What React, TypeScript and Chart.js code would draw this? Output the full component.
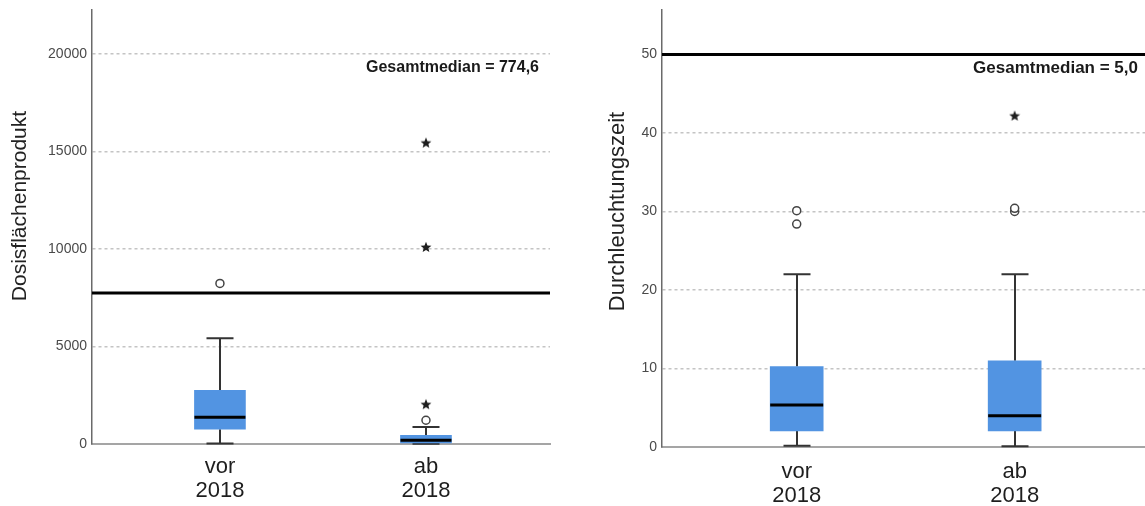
import React, { useEffect, useRef } from 'react';
import { Chart, registerables } from 'chart.js';

Chart.register(...registerables);

// ---------- shared ----------
const groupPositions = [1, 2];
const xTickLabels = [['vor', '2018'], ['ab', '2018']];

// ---------- left panel: Dosisflächenprodukt ----------
const dfpMin = [30, 10];
const dfpQ1 = [755, 50];
const dfpMedian = [1370, 190];
const dfpQ3 = [2757, 447];
const dfpMax = [5426, 873];
const dfpOutliers = [[8234], [1217]];
const dfpExtremes = [[], [2038, 10100, 15450]];
const dfpRefValue = 7746;
const dfpRefLabel = 'Gesamtmedian = 774,6';
const dfpTicks = [0, 5000, 10000, 15000, 20000];
const dfpTitle = 'Dosisflächenprodukt';

// ---------- right panel: Durchleuchtungszeit ----------
const dlzMin = [0.15, 0.1];
const dlzQ1 = [2.06, 2.06];
const dlzMedian = [5.34, 3.97];
const dlzQ3 = [10.25, 10.98];
const dlzMax = [22.0, 22.0];
const dlzOutliers = [[28.4, 30.1], [30.0, 30.4]];
const dlzExtremes = [[], [42.2]];
const dlzRefValue = 50;
const dlzRefLabel = 'Gesamtmedian = 5,0';
const dlzTicks = [0, 10, 20, 30, 40, 50];
const dlzTitle = 'Durchleuchtungszeit';

const FONT = '"Liberation Sans", Arial, Helvetica, sans-serif';
Chart.defaults.font.family = FONT;

type PanelCfg = {
  width: number;
  yAxisWidth: number;
  xAxisHeight: number;
  padTop: number;
  padRight: number;
  xMin: number;
  xMax: number;
  yMax: number;
  yTicks: number[];
  min: number[];
  q1: number[];
  median: number[];
  q3: number[];
  max: number[];
  outliers: number[][];
  extremes: number[][];
  refValue: number;
  refLabel: string;
  refLabelSize: number;
  refLabelInset: number;
  refLabelOffset: number;
  title: string;
  titleX: number;
  titleY: number;
  titleSize: number;
  boxWidth: number;
  capWidth: number;
  xTickPadding: number;
};

const leftCfg: PanelCfg = {
  width: 572,
  yAxisWidth: 92,
  xAxisHeight: 62,
  padTop: 10,
  padRight: 22,
  xMin: 0.379,
  xMax: 2.602,
  yMax: 22250,
  yTicks: dfpTicks,
  min: dfpMin,
  q1: dfpQ1,
  median: dfpMedian,
  q3: dfpQ3,
  max: dfpMax,
  outliers: dfpOutliers,
  extremes: dfpExtremes,
  refValue: dfpRefValue,
  refLabel: dfpRefLabel,
  refLabelSize: 16,
  refLabelInset: 11,
  refLabelOffset: 62,
  title: dfpTitle,
  titleX: 20.5,
  titleY: 206,
  titleSize: 21,
  boxWidth: 51,
  capWidth: 27,
  xTickPadding: 11,
};

const rightCfg: PanelCfg = {
  width: 573,
  yAxisWidth: 90,
  xAxisHeight: 59,
  padTop: 10,
  padRight: 0,
  xMin: 0.382,
  xMax: 2.598,
  yMax: 55.66,
  yTicks: dlzTicks,
  min: dlzMin,
  q1: dlzQ1,
  median: dlzMedian,
  q3: dlzQ3,
  max: dlzMax,
  outliers: dlzOutliers,
  extremes: dlzExtremes,
  refValue: dlzRefValue,
  refLabel: dlzRefLabel,
  refLabelSize: 17,
  refLabelInset: 7,
  refLabelOffset: 63,
  title: dlzTitle,
  titleX: 46,
  titleY: 211.5,
  titleSize: 22,
  boxWidth: 53,
  capWidth: 27,
  xTickPadding: 13,
};

function makeStar(size: number): HTMLCanvasElement {
  const c = document.createElement('canvas');
  c.width = size;
  c.height = size;
  const g = c.getContext('2d')!;
  const cx = size / 2;
  const cy = size / 2 + 0.5;
  const outer = size / 2 - 0.3;
  const inner = outer * 0.44;
  g.beginPath();
  for (let i = 0; i < 10; i++) {
    const r = i % 2 === 0 ? outer : inner;
    const a = -Math.PI / 2 + (i * Math.PI) / 5;
    const px = cx + r * Math.cos(a);
    const py = cy + r * Math.sin(a);
    if (i === 0) g.moveTo(px, py);
    else g.lineTo(px, py);
  }
  g.closePath();
  g.fillStyle = '#1e1e1e';
  g.fill();
  return c;
}

function makePlugin(p: PanelCfg) {
  return {
    id: 'boxExtras',
    beforeDatasetsDraw(chart: any) {
      const { ctx, chartArea: a, scales } = chart;
      const x = scales.x;
      const y = scales.y;
      ctx.save();
      // whiskers
      ctx.strokeStyle = '#333333';
      ctx.lineWidth = 2;
      p.min.forEach((mn, i) => {
        const cx = Math.round(x.getPixelForValue(groupPositions[i]));
        const yMin = y.getPixelForValue(mn);
        const yMax = y.getPixelForValue(p.max[i]);
        const yq1 = y.getPixelForValue(p.q1[i]);
        const yq3 = y.getPixelForValue(p.q3[i]);
        ctx.beginPath();
        ctx.moveTo(cx, yq3);
        ctx.lineTo(cx, yMax);
        ctx.moveTo(cx, yq1);
        ctx.lineTo(cx, yMin);
        ctx.moveTo(cx - p.capWidth / 2, yMax);
        ctx.lineTo(cx + p.capWidth / 2, yMax);
        ctx.moveTo(cx - p.capWidth / 2, yMin);
        ctx.lineTo(cx + p.capWidth / 2, yMin);
        ctx.stroke();
      });
      // reference line
      const ry = y.getPixelForValue(p.refValue);
      ctx.strokeStyle = '#000000';
      ctx.lineWidth = 3;
      ctx.beginPath();
      ctx.moveTo(a.left, ry);
      ctx.lineTo(a.right, ry);
      ctx.stroke();
      // reference label
      ctx.fillStyle = '#1a1a1a';
      ctx.font = `bold ${p.refLabelSize}px ${FONT}`;
      ctx.textAlign = 'right';
      ctx.textBaseline = 'alphabetic';
      ctx.fillText(p.refLabel, a.right - p.refLabelInset, a.top + p.refLabelOffset);
      ctx.restore();
    },
    afterDatasetsDraw(chart: any) {
      const { ctx, scales } = chart;
      const x = scales.x;
      const y = scales.y;
      ctx.save();
      ctx.strokeStyle = '#000000';
      ctx.lineWidth = 3;
      p.median.forEach((md, i) => {
        const cx = x.getPixelForValue(groupPositions[i]);
        const my = y.getPixelForValue(md);
        ctx.beginPath();
        ctx.moveTo(cx - p.boxWidth / 2, my);
        ctx.lineTo(cx + p.boxWidth / 2, my);
        ctx.stroke();
      });
      ctx.restore();
    },
    afterDraw(chart: any) {
      const { ctx } = chart;
      ctx.save();
      ctx.translate(p.titleX, p.titleY);
      ctx.rotate(-Math.PI / 2);
      ctx.font = `${p.titleSize}px ${FONT}`;
      ctx.fillStyle = '#222222';
      ctx.textAlign = 'center';
      ctx.textBaseline = 'middle';
      ctx.fillText(p.title, 0, 0);
      ctx.restore();
    },
  };
}

function Panel({ cfg }: { cfg: PanelCfg }) {
  const ref = useRef<HTMLCanvasElement>(null);
  useEffect(() => {
    const star = makeStar(12);
    const boxData = groupPositions.map((gx, i) => ({ x: gx, y: [cfg.q1[i], cfg.q3[i]] }));
    const outlierData: { x: number; y: number }[] = [];
    cfg.outliers.forEach((arr, i) => arr.forEach((v) => outlierData.push({ x: groupPositions[i], y: v })));
    const extremeData: { x: number; y: number }[] = [];
    cfg.extremes.forEach((arr, i) => arr.forEach((v) => extremeData.push({ x: groupPositions[i], y: v })));

    const chart = new Chart(ref.current!, {
      type: 'bar',
      data: {
        datasets: [
          {
            type: 'bar',
            data: boxData as any,
            backgroundColor: '#5294e2',
            borderWidth: 0,
            barThickness: cfg.boxWidth,
          } as any,
          {
            type: 'scatter',
            data: outlierData,
            pointStyle: 'circle',
            pointRadius: 4,
            pointBorderWidth: 1.5,
            pointBorderColor: '#444444',
            pointBackgroundColor: '#ffffff',
          } as any,
          {
            type: 'scatter',
            data: extremeData,
            pointStyle: star,
            pointRadius: 6,
          } as any,
        ],
      },
      options: {
        animation: false,
        responsive: false,
        maintainAspectRatio: false,
        events: [],
        layout: {
          autoPadding: false,
          padding: { left: 0, top: cfg.padTop, right: cfg.padRight, bottom: 0 },
        },
        plugins: { legend: { display: false }, tooltip: { enabled: false } },
        scales: {
          x: {
            type: 'linear',
            bounds: 'data',
            min: cfg.xMin,
            max: cfg.xMax,
            offset: false,
            afterFit: (s: any) => {
              s.height = cfg.xAxisHeight;
              s.paddingLeft = 0;
              s.paddingRight = 0;
              s.paddingTop = 0;
              s.paddingBottom = 0;
            },
            afterBuildTicks: (s: any) => {
              s.ticks = groupPositions.map((v) => ({ value: v }));
            },
            ticks: {
              autoSkip: false,
              maxRotation: 0,
              minRotation: 0,
              padding: cfg.xTickPadding,
              color: '#1e1e1e',
              font: { size: 22, lineHeight: 1.1 },
              callback: (v: any) => {
                const idx = groupPositions.indexOf(Number(v));
                return idx >= 0 ? xTickLabels[idx] : '';
              },
            },
            grid: { display: true, drawOnChartArea: false, drawTicks: false, offset: false },
            border: { display: true, color: '#a5a5a5', width: 2 },
          },
          y: {
            type: 'linear',
            bounds: 'data',
            min: 0,
            max: cfg.yMax,
            afterFit: (s: any) => {
              s.width = cfg.yAxisWidth;
              s.paddingLeft = 0;
              s.paddingRight = 0;
              s.paddingTop = 0;
              s.paddingBottom = 0;
            },
            afterBuildTicks: (s: any) => {
              s.ticks = cfg.yTicks.map((v) => ({ value: v }));
            },
            ticks: {
              padding: 5,
              color: '#4a4a4a',
              font: { size: 14 },
              callback: (v: any) => String(v),
            },
            grid: {
              drawTicks: false,
              lineWidth: 1.5,
              color: (c: any) => (c.tick && c.tick.value === 0 ? 'rgba(0,0,0,0)' : '#c4c4c4'),
            },
            border: { display: true, color: '#6a6a6a', width: 1.5, dash: [3, 3] },
          },
        },
      } as any,
      plugins: [makePlugin(cfg)],
    });
    return () => chart.destroy();
  }, [cfg]);
  return (
    <canvas
      ref={ref}
      width={cfg.width}
      height={506}
      style={{ display: 'block', width: cfg.width, height: 506, flexShrink: 0 }}
    />
  );
}

export default function App() {
  return (
    <div
      style={{
        position: 'fixed',
        left: 0,
        top: 0,
        width: 1145,
        height: 506,
        display: 'flex',
        background: '#ffffff',
        overflow: 'hidden',
      }}
    >
      <Panel cfg={leftCfg} />
      <Panel cfg={rightCfg} />
    </div>
  );
}
